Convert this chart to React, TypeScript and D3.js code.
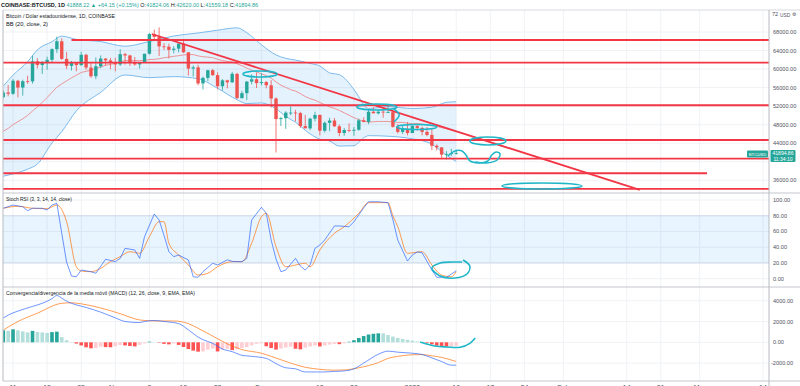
import React from "react";
import * as d3 from "d3";

// ---------- Candles: COINBASE BTCUSD 1D, index 0 = 9 Oct 2021 ----------
const opens = [53950,54950,54680,57480,56010,57370,57350,61670,60880,61530,62000,64300,66000,62200,60700,61300,60860,63080,60330,58460,60600,62270,61880,61320,61000,63220,62940,61450,61010,61520,63310,67560,66950,64900,64830,64150,64400,65500,63620,60110,60370,56900,58100,59750,58700,56300,57570,57150,58970,53730,54800,57300,57800,56970,57200,56500,53650,49200,49400,50600,50600,50500,47700,47200,49300,50100,46700,48400,48900,47650,46200,46850,46700,46900,48950,48600,50800,50450,50800,50700,50700,47550,46450,47100,46200,47700,47300,46450,45800,43450,43100,41550,41700,41824];
const highs = [55480,56550,57830,57680,57700,58560,62930,62350,61720,62680,64490,67000,66640,63730,61750,61490,63710,63290,61500,62500,62950,62300,62420,62450,64280,63520,63100,62600,61560,63300,67800,68530,69000,65600,65490,64950,65300,66300,63620,60800,60950,58350,59850,60000,59300,57850,57700,59400,59200,55300,57400,58850,59200,59100,57400,57600,53900,49700,50900,51900,51200,50800,50100,49500,50800,50200,48700,49500,49450,48000,47300,48300,47500,49300,49600,51400,51800,51200,51300,52050,50700,48150,47900,48550,47900,47950,47550,47500,47050,43750,43150,42300,42800,42620];
const lows = [53680,54120,54420,53880,54260,56830,56850,60150,58960,59850,61330,63480,62000,60000,59680,59520,60660,59850,58100,57820,60200,60720,59950,59530,60660,60960,60680,60750,60100,61380,63100,66300,62820,64100,62300,63400,63600,63500,58600,58400,56500,55600,57400,58500,55650,55350,55850,57000,53550,53650,53300,56700,55900,56450,55850,51700,42000,47700,47100,50050,48700,47300,47300,46800,48700,45700,46300,46600,47500,45500,45600,46400,45600,46700,48500,48100,50500,50200,49500,50500,47350,46100,46000,45700,46200,46700,45700,45500,42500,42450,40600,40500,41250,41559];
const closes = [54950,54680,57480,56010,57370,57350,61670,60880,61530,62000,64300,66000,62200,60700,61300,60860,63080,60330,58460,60600,62270,61880,61320,61000,63220,62940,61450,61010,61520,63310,67560,66950,64900,64830,64150,64400,65500,63620,60110,60370,56900,58100,59750,58700,56300,57570,57150,58970,53730,54800,57300,57800,56970,57200,56500,53650,49200,49400,50600,50600,50500,47700,47200,49300,50100,46700,48400,48900,47650,46200,46850,46700,46900,48950,48600,50800,50450,50800,50700,50700,47550,46450,47100,46200,47700,47300,46450,45800,43450,43100,41550,41700,41850,41894];
const lastPriceText = "41894.86";
const countdownText = "11:34:10";

// ---------- Bollinger Bands (20, close, 2) ----------
const bbBasis = [46600,47190,48030,48650,49270,50000,50950,51830,52800,53850,54990,56100,56800,57450,58110,58690,59270,59520,59750,60090,60450,60810,61010,61260,61550,61830,61820,61820,61820,61890,62050,62100,62230,62440,62580,62760,62880,63050,63130,63120,62850,62660,62580,62470,62120,61850,61640,61530,61140,60720,60210,59750,59350,58970,58590,58050,57240,56520,56050,55560,55240,54720,54090,53620,53310,52770,52330,51830,51520,51090,50570,50020,49510,49100,48710,48560,48630,48700,48700,48710,48560,48500,48490,48340,48220,48250,48150,47990,47780,47630,47360,47110,46860,46510];
const bbIdx = [0,2,5,7,10,12,15,20,25,30,35,40,44,48,50,53,56,58,60,63,65,67,69,72,73,74,75,79,84,88,91,93];
const bbUpper = [56330,58680,61590,64160,65910,67110,66410,65930,64930,65950,67150,67790,68390,68900,67850,65260,63050,62320,61950,61220,60670,59180,58790,55570,54020,52270,51500,51900,51490,51760,52830,52950];
const bbLower = [36880,37370,38410,39500,44060,46490,50970,54980,58720,58150,58370,57910,55850,53390,52560,52680,51430,49770,48530,46020,44870,44470,43390,43460,44180,45140,45630,45510,44940,43800,41400,40060];

// ---------- Stoch RSI (3, 3, 14, 14) ----------
const kIdx = [0,2,4,5,6,8,9,10,11,12,13,14,15,16,18,19,21,23,24,25,27,28,29,31,32,33,34,35,36,38,39,40,41,43,44,46,47,49,50,51,53,54,55,56,57,58,60,61,62,63,64,65,66,68,69,71,72,74,75,77,79,80,81,83,84,85,86,88,89,91,93];
const kVals = [89.5,93.6,91.5,86.4,89.5,89.5,87.3,93.6,95.8,57.7,21,3.4,2.5,11,8.9,6.9,24.7,21.6,25.9,38.6,36.5,25.9,53.4,82.2,74.6,55,34.3,28,30.1,23.8,2.5,1.8,8.9,19.6,17.4,24,22,21.6,25.9,74.6,90.7,83.1,49.2,25,8.9,11,25.9,16.1,11,17.4,38.6,42.8,49.2,67,67,66,72.4,90,97.8,97.8,96.6,75,49,22.5,30.1,34,33,11,1.8,1.8,10];
const dIdx = [0,3,6,9,11,13,15,16,18,20,22,24,26,28,30,32,33,34,36,38,40,42,44,47,49,51,53,54,56,58,60,62,63,65,68,70,73,75,79,80,81,83,86,88,90,92,93];
const dVals = [89.5,92,89.5,89,93.6,72.4,15.2,9.8,8.9,13.2,21.6,28,34.3,32.3,53.4,72.4,72.4,45,30.1,17.4,4.7,6.9,15.2,21.6,21.6,45,78.8,83.1,40.7,15.2,17.4,19.6,15.2,36.5,57.7,66,83.1,96.6,96.6,80,66,32.3,34.3,17.4,4.7,2.5,8.9];

// ---------- MACD (12, 26, 9) ----------
const macdIdx = [0,1,3,6,8,10,11,12,13,15,17,20,23,25,28,29,31,33,36,38,40,41,43,45,47,49,51,54,56,58,60,62,64,66,68,70,72,74,77,79,81,84,86,88,90,92,93];
const macdVals = [2330,2620,3000,3450,3750,4200,4500,4250,3950,3600,3350,2900,2350,2000,1900,2000,2100,2000,1800,1200,500,250,-100,-650,-900,-1250,-1350,-1550,-2050,-2450,-2550,-2850,-2850,-2850,-2800,-2750,-2550,-2000,-1150,-850,-950,-1050,-1170,-1500,-1850,-2200,-2200];
const sigIdx = [0,3,7,12,14,16,20,24,28,31,35,38,40,43,46,49,53,55,59,62,65,68,70,73,77,79,81,84,86,88,90,93];
const sigVals = [1180,2000,2800,3750,3800,3700,3300,2750,2150,2050,2050,1800,1350,600,-150,-700,-1050,-1350,-2000,-2400,-2600,-2680,-2660,-2450,-1950,-1550,-1350,-1200,-1180,-1300,-1450,-1850];
const histVals = [1150,1100,1250,1150,1050,950,1100,1000,950,900,980,1020,500,200,30,-120,-300,-480,-580,-560,-420,-460,-480,-380,-260,-300,-360,-390,-250,-100,60,20,-40,-150,-200,-120,-250,-450,-650,-800,-900,-880,-700,-600,-880,-700,-620,-750,-680,-550,-450,-300,-150,-100,-380,-550,-700,-600,-500,-420,-620,-680,-520,-400,-300,-400,-300,-220,-150,-180,-100,50,200,420,600,750,820,860,850,700,550,420,320,230,150,80,20,-60,-200,-320,-400,-420,-380,-330];

// ---------- Drawn levels ----------
const levelPrices = [66270, 61380, 52190, 44700, 40670, 37520, 34140];
const levelFrom = [14, -0.1, -0.1, -0.1, -0.1, -0.1, -0.1];
const levelTo = [157.3, 157.3, 157.3, 157.3, 157.3, 144.5, 157.3];
const trendIdx = [30.5, 130.7];
const trendPrice = [67570, 33920];

// hand-drawn marker rings (centre index/price, half width in bars, half height in USD)
const ringIdx = [52.7, 76.7, 84.9, 99.5, 110.6];
const ringPrice = [58940, 51820, 47510, 44490, 34780];
const ringHalfIdx = [3.5, 4.1, 4.1, 3.7, 8.2];
const ringHalfPrice = [650, 650, 540, 860, 650];
const hookIdx = [80.2, 81.3, 80.2];
const hookPrice = [51390, 50100, 48590];
const scribIdx = [91.3, 92.75, 94.2, 95.0, 95.8, 97.5, 99.5, 100.3, 101.2, 102.0, 101.4, 99.1, 96.9];
const scribPrice = [41253, 42332, 42332, 41469, 40175, 39743, 40175, 41469, 42116, 41684, 40390, 39743, 39959];
const stochLoopIdx = [94.4, 95.8, 95.2, 92.7, 89.7, 88.0, 89.7, 92.1, 94.2];
const stochLoopVal = [23.8, 16.1, 6.0, 0.9, 3.4, 13.6, 19.9, 21.2, 21.2];
const macdHookIdx = [85.6, 88.6, 91.1, 93.8, 95.8, 96.9];
const macdHookVal = [29, -356, -452, -481, -96, 413];

// ---------- Axes ----------
const priceTicks = [68000, 64000, 60000, 56000, 52000, 48000, 44000, 40000, 36000];
const stochTicks = [100, 80, 60, 40, 20, 0];
const macdTicks = [4000, 2000, 0, -2000];
const timeIdx = [2, 9, 16, 23, 30, 37, 44, 53, 65, 72, 84, 93, 100, 107, 115, 128, 135, 143, 156];
const timeLabels = ["11", "18", "25", "Nov", "8", "15", "22", "Dec", "13", "20", "2022", "10", "17", "24", "Feb", "14", "21", "Mar", "14"];

const UP = "#26a69a";
const DOWN = "#ef5350";
const LEVEL = "#f23645";
const INK = "#1fb6c8";
const GRID = "#f0f2f5";
const AXIS_TXT = "#50535e";
const FONT = "'Liberation Sans', Arial, sans-serif";

export default function App() {
  const L = 3, R = 769;
  const mainTop = 10, mainBot = 193, stochBot = 287, macdBot = 381;

  const x = d3.scaleLinear().domain([0, 100]).range([3.3, 490.3]);
  const yP = d3.scaleLinear().domain([36000, 68000]).range([180.3, 32]);
  const yS = d3.scaleLinear().domain([0, 100]).range([278.7, 200]);
  const yM = d3.scaleLinear().domain([-2000, 4000]).range([363.1, 300.7]);

  const bbArea = d3.area<number>()
    .x((i) => x(i))
    .y0((_, k) => yP(bbLower[k]))
    .y1((_, k) => yP(bbUpper[k]))
    .curve(d3.curveMonotoneX);
  const bbUpLine = d3.line<number>().x((i) => x(i)).y((_, k) => yP(bbUpper[k])).curve(d3.curveMonotoneX);
  const bbLoLine = d3.line<number>().x((i) => x(i)).y((_, k) => yP(bbLower[k])).curve(d3.curveMonotoneX);
  const basisLine = d3.line<number>().x((_, i) => x(i)).y((v) => yP(v));

  const kLine = d3.line<number>().x((i) => x(i)).y((_, k) => yS(kVals[k]));
  const dLine = d3.line<number>().x((i) => x(i)).y((_, k) => yS(dVals[k])).curve(d3.curveMonotoneX);
  const macdLine = d3.line<number>().x((i) => x(i)).y((_, k) => yM(macdVals[k])).curve(d3.curveMonotoneX);
  const sigLine = d3.line<number>().x((i) => x(i)).y((_, k) => yM(sigVals[k])).curve(d3.curveMonotoneX);

  const hookLine = d3.line<number>().x((i) => x(i)).y((_, k) => yP(hookPrice[k])).curve(d3.curveCatmullRom);
  const scribLine = d3.line<number>().x((i) => x(i)).y((_, k) => yP(scribPrice[k])).curve(d3.curveCatmullRom);
  const stochLoop = d3.line<number>().x((i) => x(i)).y((_, k) => yS(stochLoopVal[k])).curve(d3.curveCatmullRom);
  const macdHook = d3.line<number>().x((i) => x(i)).y((_, k) => yM(macdHookVal[k])).curve(d3.curveCatmullRom);

  const bodyW = 3.4;
  const barW = 3.6;
  const last = closes.length - 1;
  const lastY = yP(closes[last]);

  const histColor = (i: number) => {
    const v = histVals[i];
    const prev = i > 0 ? histVals[i - 1] : v;
    if (v >= 0) return v >= prev ? "#26a69a" : "#b2dfdb";
    return v <= prev ? "#ff5252" : "#ffcdd2";
  };

  return (
    <div style={{ position: "absolute", left: 0, top: 0, width: 800, height: 386, background: "#fff", overflow: "hidden" }}>
      <svg width={800} height={386} style={{ display: "block" }} fontFamily={FONT}>
        <defs>
          <clipPath id="mainClip"><rect x={L} y={mainTop} width={R - L} height={mainBot - mainTop} /></clipPath>
          <clipPath id="stochClip"><rect x={L} y={mainBot} width={R - L} height={stochBot - mainBot} /></clipPath>
          <clipPath id="macdClip"><rect x={L} y={stochBot} width={R - L} height={macdBot - stochBot} /></clipPath>
        </defs>

        {/* grid */}
        {timeIdx.map((t, k) => (
          <line key={"vg" + k} x1={x(t)} x2={x(t)} y1={mainTop} y2={macdBot} stroke={GRID} strokeWidth={1} />
        ))}
        {priceTicks.map((t) => (
          <line key={"pg" + t} x1={L} x2={R} y1={yP(t)} y2={yP(t)} stroke={GRID} strokeWidth={1} />
        ))}
        {stochTicks.map((t) => (
          <line key={"sg" + t} x1={L} x2={R} y1={yS(t)} y2={yS(t)} stroke={GRID} strokeWidth={1} />
        ))}
        {macdTicks.map((t) => (
          <line key={"mg" + t} x1={L} x2={R} y1={yM(t)} y2={yM(t)} stroke={GRID} strokeWidth={1} />
        ))}

        {/* ---------- main pane ---------- */}
        <g clipPath="url(#mainClip)">
          <path d={bbArea(bbIdx) || ""} fill="#2196f3" fillOpacity={0.12} />
          <path d={bbUpLine(bbIdx) || ""} fill="none" stroke="#6fb3ea" strokeWidth={0.9} />
          <path d={bbLoLine(bbIdx) || ""} fill="none" stroke="#6fb3ea" strokeWidth={0.9} />
          <path d={basisLine(bbBasis) || ""} fill="none" stroke="#ec8a8a" strokeWidth={0.9} />

          {opens.map((o, i) => {
            const c = closes[i];
            const col = c >= o ? UP : DOWN;
            const top = yP(Math.max(o, c));
            const bot = yP(Math.min(o, c));
            return (
              <g key={"c" + i}>
                <line x1={x(i)} x2={x(i)} y1={yP(highs[i])} y2={yP(lows[i])} stroke={col} strokeWidth={0.8} />
                <rect x={x(i) - bodyW / 2} y={top} width={bodyW} height={Math.max(0.8, bot - top)} fill={col} />
              </g>
            );
          })}

          {levelPrices.map((p, k) => (
            <line key={"lv" + k} x1={x(levelFrom[k])} x2={x(levelTo[k])} y1={yP(p)} y2={yP(p)} stroke={LEVEL} strokeWidth={1.8} />
          ))}
          <line x1={x(trendIdx[0])} y1={yP(trendPrice[0])} x2={x(trendIdx[1])} y2={yP(trendPrice[1])} stroke={LEVEL} strokeWidth={1.8} />

          {ringIdx.map((ci, k) => (
            <ellipse
              key={"ring" + k}
              cx={x(ci)}
              cy={yP(ringPrice[k])}
              rx={x(ci + ringHalfIdx[k]) - x(ci)}
              ry={yP(ringPrice[k] - ringHalfPrice[k]) - yP(ringPrice[k])}
              fill="none"
              stroke={INK}
              strokeWidth={1.6}
            />
          ))}
          <path d={hookLine(hookIdx) || ""} fill="none" stroke={INK} strokeWidth={1.5} />
          <path d={scribLine(scribIdx) || ""} fill="none" stroke={INK} strokeWidth={1.5} />
        </g>

        {/* ---------- Stoch RSI pane ---------- */}
        <g clipPath="url(#stochClip)">
          <rect x={L} y={yS(80)} width={R - L} height={yS(20) - yS(80)} fill="#2196f3" fillOpacity={0.1} />
          <line x1={L} x2={R} y1={yS(80)} y2={yS(80)} stroke="#c9d6e6" strokeWidth={0.8} />
          <line x1={L} x2={R} y1={yS(20)} y2={yS(20)} stroke="#c9d6e6" strokeWidth={0.8} />
          <path d={dLine(dIdx) || ""} fill="none" stroke="#ff6d00" strokeOpacity={0.75} strokeWidth={0.9} />
          <path d={kLine(kIdx) || ""} fill="none" stroke="#2962ff" strokeOpacity={0.75} strokeWidth={0.9} />
          <path d={stochLoop(stochLoopIdx) || ""} fill="none" stroke={INK} strokeWidth={1.6} />
        </g>

        {/* ---------- MACD pane ---------- */}
        <g clipPath="url(#macdClip)">
          {histVals.map((v, i) => (
            <rect
              key={"h" + i}
              x={x(i) - barW / 2}
              y={Math.min(yM(v), yM(0))}
              width={barW}
              height={Math.abs(yM(v) - yM(0))}
              fill={histColor(i)}
            />
          ))}
          <path d={sigLine(sigIdx) || ""} fill="none" stroke="#ff6d00" strokeOpacity={0.75} strokeWidth={0.9} />
          <path d={macdLine(macdIdx) || ""} fill="none" stroke="#2962ff" strokeOpacity={0.75} strokeWidth={0.9} />
          <path d={macdHook(macdHookIdx) || ""} fill="none" stroke={INK} strokeWidth={1.6} />
        </g>

        {/* frames */}
        <line x1={L} x2={L} y1={mainTop} y2={macdBot} stroke="#b6bac2" strokeWidth={1} />
        <line x1={L} x2={800} y1={mainTop} y2={mainTop} stroke="#d6d9de" strokeWidth={1} />
        <line x1={L} x2={800} y1={mainBot} y2={mainBot} stroke="#c3c6cc" strokeWidth={1} />
        <line x1={L} x2={800} y1={stochBot} y2={stochBot} stroke="#c3c6cc" strokeWidth={1} />
        <line x1={L} x2={800} y1={macdBot} y2={macdBot} stroke="#c3c6cc" strokeWidth={1} />
        <line x1={R} x2={R} y1={mainTop} y2={386} stroke="#b6bac2" strokeWidth={1} />

        {/* price axis */}
        {priceTicks
          .filter((t) => Math.abs(yP(t) - (lastY + 3)) > 9)
          .map((t) => (
            <text key={"pt" + t} x={773} y={yP(t) + 2} fontSize={5.6} fill={AXIS_TXT}>
              {t.toFixed(2)}
            </text>
          ))}
        <text x={772} y={16} fontSize={5.6} fill={AXIS_TXT}>72</text>
        <text x={780} y={16.5} fontSize={4.8} fill={AXIS_TXT}>USD</text>
        <text x={792} y={16} fontSize={5.2} fill={AXIS_TXT}>⚙</text>

        {/* last price labels */}
        <rect x={747} y={lastY - 2.5} width={21} height={7} fill={UP} rx={1} />
        <text x={757.5} y={lastY + 2.6} fontSize={4.3} fill="#fff" textAnchor="middle">BTCUSD</text>
        <rect x={770.5} y={lastY - 3} width={25} height={12} fill={UP} rx={1} />
        <text x={783} y={lastY + 2.4} fontSize={5} fill="#fff" textAnchor="middle">{lastPriceText}</text>
        <text x={783} y={lastY + 7.8} fontSize={5} fill="#fff" textAnchor="middle">{countdownText}</text>

        {stochTicks.map((t) => (
          <text key={"st" + t} x={773} y={yS(t) + 2} fontSize={5.6} fill={AXIS_TXT}>
            {t.toFixed(2)}
          </text>
        ))}
        {macdTicks.map((t) => (
          <text key={"mt" + t} x={t < 0 ? 771 : 773} y={yM(t) + 2} fontSize={5.6} fill={AXIS_TXT}>
            {t.toFixed(2)}
          </text>
        ))}

        {/* time axis (labels mostly below the visible frame, as in the screenshot) */}
        {timeIdx.map((t, k) => (
          <text key={"tl" + k} x={x(t)} y={390} fontSize={7} fill={AXIS_TXT} textAnchor="middle">
            {timeLabels[k]}
          </text>
        ))}

        {/* header + legends */}
        <text x={1} y={6.5} fontSize={5.5}>
          <tspan fill="#131722" fontWeight="bold">COINBASE:BTCUSD, 1D </tspan>
          <tspan fill={UP}>41888.22 ▲ +64.15 (+0.15%) </tspan>
          <tspan fill="#131722">O:</tspan>
          <tspan fill={UP}>41824.06 </tspan>
          <tspan fill="#131722">H:</tspan>
          <tspan fill={UP}>42620.00 </tspan>
          <tspan fill="#131722">L:</tspan>
          <tspan fill={UP}>41559.18 </tspan>
          <tspan fill="#131722">C:</tspan>
          <tspan fill={UP}>41894.86</tspan>
        </text>
        <text x={6} y={18} fontSize={5.6} fill="#131722" textLength={109} lengthAdjust="spacingAndGlyphs">
          Bitcoin / Dólar estadounidense, 1D, COINBASE
        </text>
        <text x={6} y={25.5} fontSize={5.6} fill="#131722" textLength={42} lengthAdjust="spacingAndGlyphs">
          BB (20, close, 2)
        </text>
        <text x={6} y={200.5} fontSize={5.4} fill="#131722" textLength={66} lengthAdjust="spacingAndGlyphs">
          Stoch RSI (3, 3, 14, 14, close)
        </text>
        <text x={6} y={295} fontSize={5.4} fill="#131722" textLength={189} lengthAdjust="spacingAndGlyphs">
          Convergencia/divergencia de la media móvil (MACD) (12, 26, close, 9, EMA, EMA)
        </text>
      </svg>
    </div>
  );
}
